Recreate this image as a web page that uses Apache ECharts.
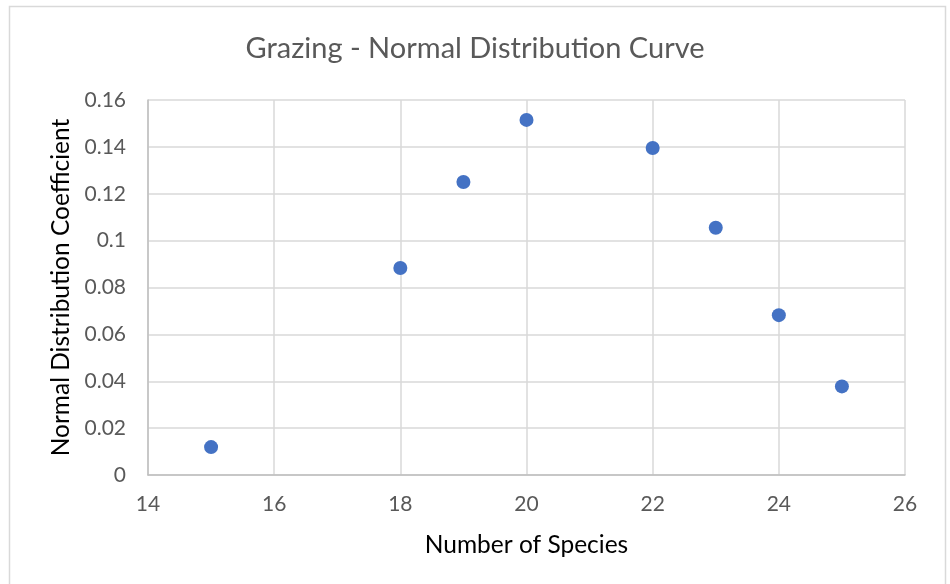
<!DOCTYPE html>
<html>
<head>
<meta charset="utf-8">
<script src="https://cdn.jsdelivr.net/npm/echarts@6/dist/echarts.min.js"></script>
<style>
  html, body { margin: 0; padding: 0; background: #fff; }
  #chart { width: 950px; height: 584px; }
</style>
</head>
<body>
<div id="chart"></div>
<script>
// species count vs normal distribution coefficient
const speciesCounts = [15, 18, 19, 20, 22, 23, 24, 25]
const coefficients = [0.0119, 0.0883, 0.125, 0.1515, 0.1395, 0.1055, 0.0682, 0.0378]

const chart = echarts.init(document.getElementById('chart'))
const font = 'Lato, "Open Sans", sans-serif'

chart.setOption({
  animation: false,
  backgroundColor: '#fff',
  textStyle: { fontFamily: font },
  graphic: [
    {
      type: 'rect',
      shape: { x: 9.5, y: 6.5, width: 936, height: 600 },
      style: { fill: 'none', stroke: '#d9d9d9', lineWidth: 1.5 },
      silent: true,
    },
  ],
  title: {
    text: 'Grazing - Normal Distribution Curve',
    left: 'center',
    top: 29,
    textStyle: { fontFamily: font, fontSize: 29, fontWeight: 'normal', color: '#595959' },
  },
  grid: { left: 148, right: 45, top: 100, bottom: 109 },
  xAxis: {
    type: 'value',
    min: 14,
    max: 26,
    interval: 2,
    name: 'Number of Species',
    nameLocation: 'middle',
    nameGap: 58,
    nameTextStyle: { fontFamily: font, fontSize: 24.5, color: '#000' },
    axisLine: { show: true, lineStyle: { color: '#bfbfbf', width: 1.5 } },
    axisTick: { show: false },
    axisLabel: { fontFamily: font, fontSize: 21, color: '#595959', margin: 19 },
    splitLine: { show: true, lineStyle: { color: '#d9d9d9', width: 1.5 } },
  },
  yAxis: {
    type: 'value',
    min: 0,
    max: 0.16,
    interval: 0.02,
    name: 'Normal Distribution Coefficient',
    nameLocation: 'middle',
    nameGap: 74,
    nameTextStyle: { fontFamily: font, fontSize: 24.5, color: '#000' },
    axisLine: { show: true, lineStyle: { color: '#bfbfbf', width: 1.5 } },
    axisTick: { show: false },
    axisLabel: {
      fontFamily: font,
      fontSize: 21,
      color: '#595959',
      margin: 22,
      formatter: (v) => String(parseFloat(v.toFixed(2))),
    },
    splitLine: { show: true, lineStyle: { color: '#d9d9d9', width: 1.5 } },
  },
  series: [
    {
      type: 'scatter',
      symbol: 'circle',
      symbolSize: 14,
      itemStyle: { color: '#4472c4', opacity: 1 },
      data: speciesCounts.map((x, i) => [x, coefficients[i]]),
    },
  ],
})
</script>
</body>
</html>
